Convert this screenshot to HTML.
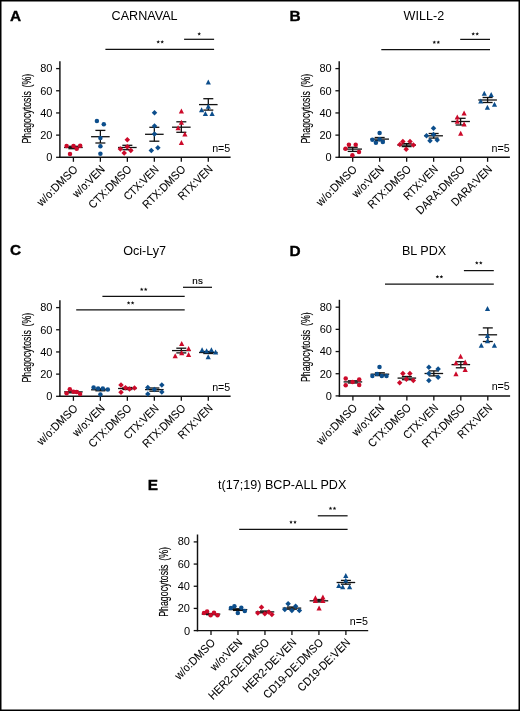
<!DOCTYPE html>
<html><head><meta charset="utf-8"><title>Phagocytosis figure</title>
<style>
html,body{margin:0;padding:0;background:#fff;}
body{width:520px;height:711px;overflow:hidden;font-family:"Liberation Sans",sans-serif;}
svg{display:block;will-change:transform;}
</style></head><body>
<svg width="520" height="711" viewBox="0 0 520 711">
<rect x="0" y="0" width="520" height="711" fill="#fff"/>
<text x="10.10" y="21.00" font-family='"Liberation Sans", sans-serif' font-weight="bold" font-size="15.4" stroke="#000" stroke-width="0.35">A</text>
<text transform="translate(144.60,20.40) scale(1,1.05)" font-family='"Liberation Sans", sans-serif' font-size="12.6" text-anchor="middle">CARNAVAL</text>
<line x1="59.90" y1="61.20" x2="59.90" y2="158.00" stroke="#111" stroke-width="1.45"/>
<line x1="59.20" y1="157.30" x2="230.60" y2="157.30" stroke="#111" stroke-width="1.45"/>
<line x1="56.10" y1="157.30" x2="59.90" y2="157.30" stroke="#111" stroke-width="1.3"/>
<text x="52.40" y="161.20" font-family='"Liberation Sans", sans-serif' font-size="11" text-anchor="end">0</text>
<line x1="56.10" y1="135.12" x2="59.90" y2="135.12" stroke="#111" stroke-width="1.3"/>
<text x="52.40" y="139.02" font-family='"Liberation Sans", sans-serif' font-size="11" text-anchor="end">20</text>
<line x1="56.10" y1="112.95" x2="59.90" y2="112.95" stroke="#111" stroke-width="1.3"/>
<text x="52.40" y="116.85" font-family='"Liberation Sans", sans-serif' font-size="11" text-anchor="end">40</text>
<line x1="56.10" y1="90.77" x2="59.90" y2="90.77" stroke="#111" stroke-width="1.3"/>
<text x="52.40" y="94.67" font-family='"Liberation Sans", sans-serif' font-size="11" text-anchor="end">60</text>
<line x1="56.10" y1="68.60" x2="59.90" y2="68.60" stroke="#111" stroke-width="1.3"/>
<text x="52.40" y="72.10" font-family='"Liberation Sans", sans-serif' font-size="11" text-anchor="end">80</text>
<text transform="translate(30.60,108.60) rotate(-90) scale(0.688,1)" font-family='"Liberation Sans", sans-serif' font-size="12.8" stroke="#000" stroke-width="0.15" word-spacing="2" text-anchor="middle">Phagocytosis (%)</text>
<line x1="73.40" y1="157.30" x2="73.40" y2="161.80" stroke="#111" stroke-width="1.3"/>
<text transform="translate(78.45,169.95) rotate(-45) scale(1,1.09)" font-family='"Liberation Sans", sans-serif' font-size="10.5" stroke="#000" stroke-width="0.06" text-anchor="end" textLength="52.17" lengthAdjust="spacingAndGlyphs">w/o:DMSO</text>
<line x1="100.38" y1="157.30" x2="100.38" y2="161.80" stroke="#111" stroke-width="1.3"/>
<text transform="translate(105.43,169.95) rotate(-45) scale(1,1.09)" font-family='"Liberation Sans", sans-serif' font-size="10.5" stroke="#000" stroke-width="0.06" text-anchor="end" textLength="40.06" lengthAdjust="spacingAndGlyphs">w/o:VEN</text>
<line x1="127.36" y1="157.30" x2="127.36" y2="161.80" stroke="#111" stroke-width="1.3"/>
<text transform="translate(132.41,169.95) rotate(-45) scale(1,1.09)" font-family='"Liberation Sans", sans-serif' font-size="10.5" stroke="#000" stroke-width="0.06" text-anchor="end" textLength="55.72" lengthAdjust="spacingAndGlyphs">CTX:DMSO</text>
<line x1="154.34" y1="157.30" x2="154.34" y2="161.80" stroke="#111" stroke-width="1.3"/>
<text transform="translate(159.39,169.95) rotate(-45) scale(1,1.09)" font-family='"Liberation Sans", sans-serif' font-size="10.5" stroke="#000" stroke-width="0.06" text-anchor="end" textLength="44.02" lengthAdjust="spacingAndGlyphs">CTX:VEN</text>
<line x1="181.32" y1="157.30" x2="181.32" y2="161.80" stroke="#111" stroke-width="1.3"/>
<text transform="translate(186.37,169.95) rotate(-45) scale(1,1.09)" font-family='"Liberation Sans", sans-serif' font-size="10.5" stroke="#000" stroke-width="0.06" text-anchor="end" textLength="55.72" lengthAdjust="spacingAndGlyphs">RTX:DMSO</text>
<line x1="208.30" y1="157.30" x2="208.30" y2="161.80" stroke="#111" stroke-width="1.3"/>
<text transform="translate(213.35,169.95) rotate(-45) scale(1,1.09)" font-family='"Liberation Sans", sans-serif' font-size="10.5" stroke="#000" stroke-width="0.06" text-anchor="end" textLength="43.52" lengthAdjust="spacingAndGlyphs">RTX:VEN</text>
<text x="230.30" y="151.70" font-family='"Liberation Sans", sans-serif' font-size="10.7" text-anchor="end">n=5</text>
<line x1="64.10" y1="147.50" x2="82.70" y2="147.50" stroke="#111" stroke-width="1.3"/>
<line x1="68.40" y1="146.30" x2="78.40" y2="146.30" stroke="#111" stroke-width="1.3"/>
<line x1="68.40" y1="148.70" x2="78.40" y2="148.70" stroke="#111" stroke-width="1.3"/>
<line x1="73.40" y1="146.30" x2="73.40" y2="148.70" stroke="#111" stroke-width="1.3"/>
<circle cx="66.60" cy="146.10" r="2.25" fill="#cc0a2a"/>
<circle cx="73.50" cy="146.10" r="2.25" fill="#cc0a2a"/>
<circle cx="76.70" cy="148.80" r="2.25" fill="#cc0a2a"/>
<circle cx="80.20" cy="145.80" r="2.25" fill="#cc0a2a"/>
<circle cx="70.00" cy="154.00" r="2.25" fill="#cc0a2a"/>
<line x1="91.08" y1="136.70" x2="109.68" y2="136.70" stroke="#111" stroke-width="1.3"/>
<line x1="95.38" y1="130.40" x2="105.38" y2="130.40" stroke="#111" stroke-width="1.3"/>
<line x1="95.38" y1="143.00" x2="105.38" y2="143.00" stroke="#111" stroke-width="1.3"/>
<line x1="100.38" y1="130.40" x2="100.38" y2="143.00" stroke="#111" stroke-width="1.3"/>
<circle cx="96.90" cy="121.00" r="2.25" fill="#0c4e8c"/>
<circle cx="103.80" cy="124.20" r="2.25" fill="#0c4e8c"/>
<circle cx="100.40" cy="138.00" r="2.25" fill="#0c4e8c"/>
<circle cx="100.40" cy="146.30" r="2.25" fill="#0c4e8c"/>
<circle cx="100.40" cy="153.80" r="2.25" fill="#0c4e8c"/>
<line x1="118.06" y1="147.50" x2="136.66" y2="147.50" stroke="#111" stroke-width="1.3"/>
<line x1="122.36" y1="145.30" x2="132.36" y2="145.30" stroke="#111" stroke-width="1.3"/>
<line x1="122.36" y1="149.70" x2="132.36" y2="149.70" stroke="#111" stroke-width="1.3"/>
<line x1="127.36" y1="145.30" x2="127.36" y2="149.70" stroke="#111" stroke-width="1.3"/>
<path d="M127.30 137.05L130.05 139.80L127.30 142.55L124.55 139.80Z" fill="#cc0a2a"/>
<path d="M127.30 143.95L130.05 146.70L127.30 149.45L124.55 146.70Z" fill="#cc0a2a"/>
<path d="M120.40 146.25L123.15 149.00L120.40 151.75L117.65 149.00Z" fill="#cc0a2a"/>
<path d="M130.80 147.75L133.55 150.50L130.80 153.25L128.05 150.50Z" fill="#cc0a2a"/>
<path d="M124.20 150.35L126.95 153.10L124.20 155.85L121.45 153.10Z" fill="#cc0a2a"/>
<line x1="145.04" y1="134.30" x2="163.64" y2="134.30" stroke="#111" stroke-width="1.3"/>
<line x1="149.34" y1="127.30" x2="159.34" y2="127.30" stroke="#111" stroke-width="1.3"/>
<line x1="149.34" y1="141.20" x2="159.34" y2="141.20" stroke="#111" stroke-width="1.3"/>
<line x1="154.34" y1="127.30" x2="154.34" y2="141.20" stroke="#111" stroke-width="1.3"/>
<path d="M154.50 109.95L157.25 112.70L154.50 115.45L151.75 112.70Z" fill="#0c4e8c"/>
<path d="M154.50 123.25L157.25 126.00L154.50 128.75L151.75 126.00Z" fill="#0c4e8c"/>
<path d="M154.50 131.25L157.25 134.00L154.50 136.75L151.75 134.00Z" fill="#0c4e8c"/>
<path d="M157.90 144.95L160.65 147.70L157.90 150.45L155.15 147.70Z" fill="#0c4e8c"/>
<path d="M151.30 147.65L154.05 150.40L151.30 153.15L148.55 150.40Z" fill="#0c4e8c"/>
<line x1="172.02" y1="127.20" x2="190.62" y2="127.20" stroke="#111" stroke-width="1.3"/>
<line x1="176.32" y1="121.80" x2="186.32" y2="121.80" stroke="#111" stroke-width="1.3"/>
<line x1="176.32" y1="132.30" x2="186.32" y2="132.30" stroke="#111" stroke-width="1.3"/>
<line x1="181.32" y1="121.80" x2="181.32" y2="132.30" stroke="#111" stroke-width="1.3"/>
<path d="M181.40 108.45L184.00 113.45L178.80 113.45Z" fill="#cc0a2a"/>
<path d="M181.40 119.75L184.00 124.75L178.80 124.75Z" fill="#cc0a2a"/>
<path d="M178.10 125.15L180.70 130.15L175.50 130.15Z" fill="#cc0a2a"/>
<path d="M184.90 131.55L187.50 136.55L182.30 136.55Z" fill="#cc0a2a"/>
<path d="M181.40 139.95L184.00 144.95L178.80 144.95Z" fill="#cc0a2a"/>
<line x1="199.00" y1="104.60" x2="217.60" y2="104.60" stroke="#111" stroke-width="1.3"/>
<line x1="203.30" y1="98.70" x2="213.30" y2="98.70" stroke="#111" stroke-width="1.3"/>
<line x1="203.30" y1="110.10" x2="213.30" y2="110.10" stroke="#111" stroke-width="1.3"/>
<line x1="208.30" y1="98.70" x2="208.30" y2="110.10" stroke="#111" stroke-width="1.3"/>
<path d="M208.30 79.55L210.90 84.55L205.70 84.55Z" fill="#0c4e8c"/>
<path d="M208.30 103.85L210.90 108.85L205.70 108.85Z" fill="#0c4e8c"/>
<path d="M201.60 107.25L204.20 112.25L199.00 112.25Z" fill="#0c4e8c"/>
<path d="M205.40 110.95L208.00 115.95L202.80 115.95Z" fill="#0c4e8c"/>
<path d="M212.10 110.95L214.70 115.95L209.50 115.95Z" fill="#0c4e8c"/>
<line x1="184.10" y1="39.30" x2="214.10" y2="39.30" stroke="#111" stroke-width="1.25"/>
<polygon points="199.20,32.10 199.70,33.31 201.01,33.41 200.01,34.26 200.32,35.54 199.20,34.85 198.08,35.54 198.39,34.26 197.39,33.41 198.70,33.31" fill="#111"/>
<line x1="105.40" y1="49.40" x2="214.10" y2="49.40" stroke="#111" stroke-width="1.25"/>
<polygon points="158.20,40.10 158.70,41.31 160.01,41.41 159.01,42.26 159.32,43.54 158.20,42.85 157.08,43.54 157.39,42.26 156.39,41.41 157.70,41.31" fill="#111"/>
<polygon points="162.20,40.10 162.70,41.31 164.01,41.41 163.01,42.26 163.32,43.54 162.20,42.85 161.08,43.54 161.39,42.26 160.39,41.41 161.70,41.31" fill="#111"/>
<text x="289.40" y="21.00" font-family='"Liberation Sans", sans-serif' font-weight="bold" font-size="15.4" stroke="#000" stroke-width="0.35">B</text>
<text transform="translate(423.90,20.40) scale(1,1.05)" font-family='"Liberation Sans", sans-serif' font-size="12.6" text-anchor="middle">WILL-2</text>
<line x1="339.20" y1="61.20" x2="339.20" y2="158.00" stroke="#111" stroke-width="1.45"/>
<line x1="338.50" y1="157.30" x2="509.90" y2="157.30" stroke="#111" stroke-width="1.45"/>
<line x1="335.40" y1="157.30" x2="339.20" y2="157.30" stroke="#111" stroke-width="1.3"/>
<text x="331.70" y="161.20" font-family='"Liberation Sans", sans-serif' font-size="11" text-anchor="end">0</text>
<line x1="335.40" y1="135.12" x2="339.20" y2="135.12" stroke="#111" stroke-width="1.3"/>
<text x="331.70" y="139.02" font-family='"Liberation Sans", sans-serif' font-size="11" text-anchor="end">20</text>
<line x1="335.40" y1="112.95" x2="339.20" y2="112.95" stroke="#111" stroke-width="1.3"/>
<text x="331.70" y="116.85" font-family='"Liberation Sans", sans-serif' font-size="11" text-anchor="end">40</text>
<line x1="335.40" y1="90.77" x2="339.20" y2="90.77" stroke="#111" stroke-width="1.3"/>
<text x="331.70" y="94.67" font-family='"Liberation Sans", sans-serif' font-size="11" text-anchor="end">60</text>
<line x1="335.40" y1="68.60" x2="339.20" y2="68.60" stroke="#111" stroke-width="1.3"/>
<text x="331.70" y="72.10" font-family='"Liberation Sans", sans-serif' font-size="11" text-anchor="end">80</text>
<text transform="translate(309.90,108.60) rotate(-90) scale(0.688,1)" font-family='"Liberation Sans", sans-serif' font-size="12.8" stroke="#000" stroke-width="0.15" word-spacing="2" text-anchor="middle">Phagocytosis (%)</text>
<line x1="352.70" y1="157.30" x2="352.70" y2="161.80" stroke="#111" stroke-width="1.3"/>
<text transform="translate(357.75,169.95) rotate(-45) scale(1,1.09)" font-family='"Liberation Sans", sans-serif' font-size="10.5" stroke="#000" stroke-width="0.06" text-anchor="end" textLength="52.17" lengthAdjust="spacingAndGlyphs">w/o:DMSO</text>
<line x1="379.68" y1="157.30" x2="379.68" y2="161.80" stroke="#111" stroke-width="1.3"/>
<text transform="translate(384.73,169.95) rotate(-45) scale(1,1.09)" font-family='"Liberation Sans", sans-serif' font-size="10.5" stroke="#000" stroke-width="0.06" text-anchor="end" textLength="40.06" lengthAdjust="spacingAndGlyphs">w/o:VEN</text>
<line x1="406.66" y1="157.30" x2="406.66" y2="161.80" stroke="#111" stroke-width="1.3"/>
<text transform="translate(411.71,169.95) rotate(-45) scale(1,1.09)" font-family='"Liberation Sans", sans-serif' font-size="10.5" stroke="#000" stroke-width="0.06" text-anchor="end" textLength="55.72" lengthAdjust="spacingAndGlyphs">RTX:DMSO</text>
<line x1="433.64" y1="157.30" x2="433.64" y2="161.80" stroke="#111" stroke-width="1.3"/>
<text transform="translate(438.69,169.95) rotate(-45) scale(1,1.09)" font-family='"Liberation Sans", sans-serif' font-size="10.5" stroke="#000" stroke-width="0.06" text-anchor="end" textLength="43.52" lengthAdjust="spacingAndGlyphs">RTX:VEN</text>
<line x1="460.62" y1="157.30" x2="460.62" y2="161.80" stroke="#111" stroke-width="1.3"/>
<text transform="translate(465.67,169.95) rotate(-45) scale(1,1.09)" font-family='"Liberation Sans", sans-serif' font-size="10.5" stroke="#000" stroke-width="0.06" text-anchor="end" textLength="63.89" lengthAdjust="spacingAndGlyphs">DARA:DMSO</text>
<line x1="487.60" y1="157.30" x2="487.60" y2="161.80" stroke="#111" stroke-width="1.3"/>
<text transform="translate(492.65,169.95) rotate(-45) scale(1,1.09)" font-family='"Liberation Sans", sans-serif' font-size="10.5" stroke="#000" stroke-width="0.06" text-anchor="end" textLength="52.19" lengthAdjust="spacingAndGlyphs">DARA:VEN</text>
<text x="509.60" y="151.70" font-family='"Liberation Sans", sans-serif' font-size="10.7" text-anchor="end">n=5</text>
<line x1="343.40" y1="149.10" x2="362.00" y2="149.10" stroke="#111" stroke-width="1.3"/>
<line x1="347.70" y1="147.30" x2="357.70" y2="147.30" stroke="#111" stroke-width="1.3"/>
<line x1="347.70" y1="151.40" x2="357.70" y2="151.40" stroke="#111" stroke-width="1.3"/>
<line x1="352.70" y1="147.30" x2="352.70" y2="151.40" stroke="#111" stroke-width="1.3"/>
<circle cx="348.90" cy="144.80" r="2.25" fill="#cc0a2a"/>
<circle cx="355.70" cy="144.80" r="2.25" fill="#cc0a2a"/>
<circle cx="345.50" cy="148.70" r="2.25" fill="#cc0a2a"/>
<circle cx="359.00" cy="152.10" r="2.25" fill="#cc0a2a"/>
<circle cx="352.40" cy="155.20" r="2.25" fill="#cc0a2a"/>
<line x1="370.38" y1="139.10" x2="388.98" y2="139.10" stroke="#111" stroke-width="1.3"/>
<line x1="374.68" y1="137.50" x2="384.68" y2="137.50" stroke="#111" stroke-width="1.3"/>
<line x1="374.68" y1="140.70" x2="384.68" y2="140.70" stroke="#111" stroke-width="1.3"/>
<line x1="379.68" y1="137.50" x2="379.68" y2="140.70" stroke="#111" stroke-width="1.3"/>
<circle cx="379.60" cy="132.90" r="2.25" fill="#0c4e8c"/>
<circle cx="372.40" cy="139.80" r="2.25" fill="#0c4e8c"/>
<circle cx="379.60" cy="139.30" r="2.25" fill="#0c4e8c"/>
<circle cx="375.90" cy="142.70" r="2.25" fill="#0c4e8c"/>
<circle cx="382.80" cy="142.10" r="2.25" fill="#0c4e8c"/>
<line x1="397.36" y1="145.10" x2="415.96" y2="145.10" stroke="#111" stroke-width="1.3"/>
<line x1="401.66" y1="143.60" x2="411.66" y2="143.60" stroke="#111" stroke-width="1.3"/>
<line x1="401.66" y1="146.60" x2="411.66" y2="146.60" stroke="#111" stroke-width="1.3"/>
<line x1="406.66" y1="143.60" x2="406.66" y2="146.60" stroke="#111" stroke-width="1.3"/>
<path d="M399.90 141.65L402.65 144.40L399.90 147.15L397.15 144.40Z" fill="#cc0a2a"/>
<path d="M402.90 138.65L405.65 141.40L402.90 144.15L400.15 141.40Z" fill="#cc0a2a"/>
<path d="M410.00 138.65L412.75 141.40L410.00 144.15L407.25 141.40Z" fill="#cc0a2a"/>
<path d="M413.40 142.35L416.15 145.10L413.40 147.85L410.65 145.10Z" fill="#cc0a2a"/>
<path d="M406.20 146.55L408.95 149.30L406.20 152.05L403.45 149.30Z" fill="#cc0a2a"/>
<line x1="424.34" y1="135.80" x2="442.94" y2="135.80" stroke="#111" stroke-width="1.3"/>
<line x1="428.64" y1="133.50" x2="438.64" y2="133.50" stroke="#111" stroke-width="1.3"/>
<line x1="428.64" y1="138.10" x2="438.64" y2="138.10" stroke="#111" stroke-width="1.3"/>
<line x1="433.64" y1="133.50" x2="433.64" y2="138.10" stroke="#111" stroke-width="1.3"/>
<path d="M433.50 125.45L436.25 128.20L433.50 130.95L430.75 128.20Z" fill="#0c4e8c"/>
<path d="M426.50 133.05L429.25 135.80L426.50 138.55L423.75 135.80Z" fill="#0c4e8c"/>
<path d="M433.50 131.85L436.25 134.60L433.50 137.35L430.75 134.60Z" fill="#0c4e8c"/>
<path d="M430.00 138.05L432.75 140.80L430.00 143.55L427.25 140.80Z" fill="#0c4e8c"/>
<path d="M437.20 137.25L439.95 140.00L437.20 142.75L434.45 140.00Z" fill="#0c4e8c"/>
<line x1="451.32" y1="121.50" x2="469.92" y2="121.50" stroke="#111" stroke-width="1.3"/>
<line x1="455.62" y1="118.30" x2="465.62" y2="118.30" stroke="#111" stroke-width="1.3"/>
<line x1="455.62" y1="125.00" x2="465.62" y2="125.00" stroke="#111" stroke-width="1.3"/>
<line x1="460.62" y1="118.30" x2="460.62" y2="125.00" stroke="#111" stroke-width="1.3"/>
<path d="M464.10 110.55L466.70 115.55L461.50 115.55Z" fill="#cc0a2a"/>
<path d="M457.30 114.55L459.90 119.55L454.70 119.55Z" fill="#cc0a2a"/>
<path d="M457.30 118.75L459.90 123.75L454.70 123.75Z" fill="#cc0a2a"/>
<path d="M464.10 121.55L466.70 126.55L461.50 126.55Z" fill="#cc0a2a"/>
<path d="M460.70 130.65L463.30 135.65L458.10 135.65Z" fill="#cc0a2a"/>
<line x1="478.30" y1="100.00" x2="496.90" y2="100.00" stroke="#111" stroke-width="1.3"/>
<line x1="482.60" y1="97.50" x2="492.60" y2="97.50" stroke="#111" stroke-width="1.3"/>
<line x1="482.60" y1="102.50" x2="492.60" y2="102.50" stroke="#111" stroke-width="1.3"/>
<line x1="487.60" y1="97.50" x2="487.60" y2="102.50" stroke="#111" stroke-width="1.3"/>
<path d="M484.30 90.75L486.90 95.75L481.70 95.75Z" fill="#0c4e8c"/>
<path d="M491.20 91.95L493.80 96.95L488.60 96.95Z" fill="#0c4e8c"/>
<path d="M480.80 98.45L483.40 103.45L478.20 103.45Z" fill="#0c4e8c"/>
<path d="M494.50 101.85L497.10 106.85L491.90 106.85Z" fill="#0c4e8c"/>
<path d="M487.40 104.65L490.00 109.65L484.80 109.65Z" fill="#0c4e8c"/>
<line x1="460.20" y1="39.40" x2="490.00" y2="39.40" stroke="#111" stroke-width="1.25"/>
<polygon points="473.20,32.10 473.70,33.31 475.01,33.41 474.01,34.26 474.32,35.54 473.20,34.85 472.08,35.54 472.39,34.26 471.39,33.41 472.70,33.31" fill="#111"/>
<polygon points="477.20,32.10 477.70,33.31 479.01,33.41 478.01,34.26 478.32,35.54 477.20,34.85 476.08,35.54 476.39,34.26 475.39,33.41 476.70,33.31" fill="#111"/>
<line x1="381.30" y1="49.50" x2="490.00" y2="49.50" stroke="#111" stroke-width="1.25"/>
<polygon points="434.30,40.40 434.80,41.61 436.11,41.71 435.11,42.56 435.42,43.84 434.30,43.15 433.18,43.84 433.49,42.56 432.49,41.71 433.80,41.61" fill="#111"/>
<polygon points="438.30,40.40 438.80,41.61 440.11,41.71 439.11,42.56 439.42,43.84 438.30,43.15 437.18,43.84 437.49,42.56 436.49,41.71 437.80,41.61" fill="#111"/>
<text x="10.10" y="255.40" font-family='"Liberation Sans", sans-serif' font-weight="bold" font-size="15.4" stroke="#000" stroke-width="0.35">C</text>
<text transform="translate(144.60,254.80) scale(1,1.05)" font-family='"Liberation Sans", sans-serif' font-size="12.6" text-anchor="middle">Oci-Ly7</text>
<line x1="59.90" y1="300.20" x2="59.90" y2="397.00" stroke="#111" stroke-width="1.45"/>
<line x1="59.20" y1="396.30" x2="230.60" y2="396.30" stroke="#111" stroke-width="1.45"/>
<line x1="56.10" y1="396.30" x2="59.90" y2="396.30" stroke="#111" stroke-width="1.3"/>
<text x="52.40" y="400.20" font-family='"Liberation Sans", sans-serif' font-size="11" text-anchor="end">0</text>
<line x1="56.10" y1="374.12" x2="59.90" y2="374.12" stroke="#111" stroke-width="1.3"/>
<text x="52.40" y="378.02" font-family='"Liberation Sans", sans-serif' font-size="11" text-anchor="end">20</text>
<line x1="56.10" y1="351.95" x2="59.90" y2="351.95" stroke="#111" stroke-width="1.3"/>
<text x="52.40" y="355.85" font-family='"Liberation Sans", sans-serif' font-size="11" text-anchor="end">40</text>
<line x1="56.10" y1="329.77" x2="59.90" y2="329.77" stroke="#111" stroke-width="1.3"/>
<text x="52.40" y="333.67" font-family='"Liberation Sans", sans-serif' font-size="11" text-anchor="end">60</text>
<line x1="56.10" y1="307.60" x2="59.90" y2="307.60" stroke="#111" stroke-width="1.3"/>
<text x="52.40" y="311.10" font-family='"Liberation Sans", sans-serif' font-size="11" text-anchor="end">80</text>
<text transform="translate(30.60,347.60) rotate(-90) scale(0.688,1)" font-family='"Liberation Sans", sans-serif' font-size="12.8" stroke="#000" stroke-width="0.15" word-spacing="2" text-anchor="middle">Phagocytosis (%)</text>
<line x1="73.40" y1="396.30" x2="73.40" y2="400.80" stroke="#111" stroke-width="1.3"/>
<text transform="translate(78.45,408.95) rotate(-45) scale(1,1.09)" font-family='"Liberation Sans", sans-serif' font-size="10.5" stroke="#000" stroke-width="0.06" text-anchor="end" textLength="52.17" lengthAdjust="spacingAndGlyphs">w/o:DMSO</text>
<line x1="100.38" y1="396.30" x2="100.38" y2="400.80" stroke="#111" stroke-width="1.3"/>
<text transform="translate(105.43,408.95) rotate(-45) scale(1,1.09)" font-family='"Liberation Sans", sans-serif' font-size="10.5" stroke="#000" stroke-width="0.06" text-anchor="end" textLength="40.06" lengthAdjust="spacingAndGlyphs">w/o:VEN</text>
<line x1="127.36" y1="396.30" x2="127.36" y2="400.80" stroke="#111" stroke-width="1.3"/>
<text transform="translate(132.41,408.95) rotate(-45) scale(1,1.09)" font-family='"Liberation Sans", sans-serif' font-size="10.5" stroke="#000" stroke-width="0.06" text-anchor="end" textLength="55.72" lengthAdjust="spacingAndGlyphs">CTX:DMSO</text>
<line x1="154.34" y1="396.30" x2="154.34" y2="400.80" stroke="#111" stroke-width="1.3"/>
<text transform="translate(159.39,408.95) rotate(-45) scale(1,1.09)" font-family='"Liberation Sans", sans-serif' font-size="10.5" stroke="#000" stroke-width="0.06" text-anchor="end" textLength="44.02" lengthAdjust="spacingAndGlyphs">CTX:VEN</text>
<line x1="181.32" y1="396.30" x2="181.32" y2="400.80" stroke="#111" stroke-width="1.3"/>
<text transform="translate(186.37,408.95) rotate(-45) scale(1,1.09)" font-family='"Liberation Sans", sans-serif' font-size="10.5" stroke="#000" stroke-width="0.06" text-anchor="end" textLength="55.72" lengthAdjust="spacingAndGlyphs">RTX:DMSO</text>
<line x1="208.30" y1="396.30" x2="208.30" y2="400.80" stroke="#111" stroke-width="1.3"/>
<text transform="translate(213.35,408.95) rotate(-45) scale(1,1.09)" font-family='"Liberation Sans", sans-serif' font-size="10.5" stroke="#000" stroke-width="0.06" text-anchor="end" textLength="43.52" lengthAdjust="spacingAndGlyphs">RTX:VEN</text>
<text x="230.30" y="390.70" font-family='"Liberation Sans", sans-serif' font-size="10.7" text-anchor="end">n=5</text>
<line x1="64.10" y1="391.90" x2="82.70" y2="391.90" stroke="#111" stroke-width="1.3"/>
<line x1="68.40" y1="391.00" x2="78.40" y2="391.00" stroke="#111" stroke-width="1.3"/>
<line x1="68.40" y1="392.80" x2="78.40" y2="392.80" stroke="#111" stroke-width="1.3"/>
<line x1="73.40" y1="391.00" x2="73.40" y2="392.80" stroke="#111" stroke-width="1.3"/>
<circle cx="66.60" cy="393.20" r="2.25" fill="#cc0a2a"/>
<circle cx="69.80" cy="389.30" r="2.25" fill="#cc0a2a"/>
<circle cx="73.50" cy="391.70" r="2.25" fill="#cc0a2a"/>
<circle cx="76.70" cy="391.90" r="2.25" fill="#cc0a2a"/>
<circle cx="80.10" cy="394.00" r="2.25" fill="#cc0a2a"/>
<line x1="91.08" y1="389.80" x2="109.68" y2="389.80" stroke="#111" stroke-width="1.3"/>
<line x1="95.38" y1="388.80" x2="105.38" y2="388.80" stroke="#111" stroke-width="1.3"/>
<line x1="95.38" y1="390.80" x2="105.38" y2="390.80" stroke="#111" stroke-width="1.3"/>
<line x1="100.38" y1="388.80" x2="100.38" y2="390.80" stroke="#111" stroke-width="1.3"/>
<circle cx="93.60" cy="387.50" r="2.25" fill="#0c4e8c"/>
<circle cx="98.10" cy="388.50" r="2.25" fill="#0c4e8c"/>
<circle cx="102.80" cy="388.50" r="2.25" fill="#0c4e8c"/>
<circle cx="107.80" cy="389.60" r="2.25" fill="#0c4e8c"/>
<circle cx="100.40" cy="394.40" r="2.25" fill="#0c4e8c"/>
<line x1="118.06" y1="388.50" x2="136.66" y2="388.50" stroke="#111" stroke-width="1.3"/>
<line x1="122.36" y1="387.50" x2="132.36" y2="387.50" stroke="#111" stroke-width="1.3"/>
<line x1="122.36" y1="389.50" x2="132.36" y2="389.50" stroke="#111" stroke-width="1.3"/>
<line x1="127.36" y1="387.50" x2="127.36" y2="389.50" stroke="#111" stroke-width="1.3"/>
<path d="M121.00 382.35L123.75 385.10L121.00 387.85L118.25 385.10Z" fill="#cc0a2a"/>
<path d="M121.00 389.45L123.75 392.20L121.00 394.95L118.25 392.20Z" fill="#cc0a2a"/>
<path d="M125.50 385.05L128.25 387.80L125.50 390.55L122.75 387.80Z" fill="#cc0a2a"/>
<path d="M129.50 386.25L132.25 389.00L129.50 391.75L126.75 389.00Z" fill="#cc0a2a"/>
<path d="M134.50 385.25L137.25 388.00L134.50 390.75L131.75 388.00Z" fill="#cc0a2a"/>
<line x1="145.04" y1="389.60" x2="163.64" y2="389.60" stroke="#111" stroke-width="1.3"/>
<line x1="149.34" y1="388.00" x2="159.34" y2="388.00" stroke="#111" stroke-width="1.3"/>
<line x1="149.34" y1="391.20" x2="159.34" y2="391.20" stroke="#111" stroke-width="1.3"/>
<line x1="154.34" y1="388.00" x2="154.34" y2="391.20" stroke="#111" stroke-width="1.3"/>
<path d="M147.80 384.65L150.55 387.40L147.80 390.15L145.05 387.40Z" fill="#0c4e8c"/>
<path d="M147.80 391.25L150.55 394.00L147.80 396.75L145.05 394.00Z" fill="#0c4e8c"/>
<path d="M161.80 382.15L164.55 384.90L161.80 387.65L159.05 384.90Z" fill="#0c4e8c"/>
<path d="M161.80 389.15L164.55 391.90L161.80 394.65L159.05 391.90Z" fill="#0c4e8c"/>
<path d="M154.40 386.85L157.15 389.60L154.40 392.35L151.65 389.60Z" fill="#0c4e8c"/>
<line x1="172.02" y1="350.60" x2="190.62" y2="350.60" stroke="#111" stroke-width="1.3"/>
<line x1="176.32" y1="348.20" x2="186.32" y2="348.20" stroke="#111" stroke-width="1.3"/>
<line x1="176.32" y1="352.90" x2="186.32" y2="352.90" stroke="#111" stroke-width="1.3"/>
<line x1="181.32" y1="348.20" x2="181.32" y2="352.90" stroke="#111" stroke-width="1.3"/>
<path d="M181.70 340.95L184.30 345.95L179.10 345.95Z" fill="#cc0a2a"/>
<path d="M188.60 345.95L191.20 350.95L186.00 350.95Z" fill="#cc0a2a"/>
<path d="M181.70 350.15L184.30 355.15L179.10 355.15Z" fill="#cc0a2a"/>
<path d="M175.20 353.15L177.80 358.15L172.60 358.15Z" fill="#cc0a2a"/>
<path d="M188.60 352.05L191.20 357.05L186.00 357.05Z" fill="#cc0a2a"/>
<line x1="199.00" y1="352.50" x2="217.60" y2="352.50" stroke="#111" stroke-width="1.3"/>
<line x1="203.30" y1="351.50" x2="213.30" y2="351.50" stroke="#111" stroke-width="1.3"/>
<line x1="203.30" y1="353.50" x2="213.30" y2="353.50" stroke="#111" stroke-width="1.3"/>
<line x1="208.30" y1="351.50" x2="208.30" y2="353.50" stroke="#111" stroke-width="1.3"/>
<path d="M202.10 347.25L204.70 352.25L199.50 352.25Z" fill="#0c4e8c"/>
<path d="M206.60 348.35L209.20 353.35L204.00 353.35Z" fill="#0c4e8c"/>
<path d="M211.40 347.25L214.00 352.25L208.80 352.25Z" fill="#0c4e8c"/>
<path d="M215.60 349.45L218.20 354.45L213.00 354.45Z" fill="#0c4e8c"/>
<path d="M208.20 354.15L210.80 359.15L205.60 359.15Z" fill="#0c4e8c"/>
<line x1="183.00" y1="287.30" x2="212.00" y2="287.30" stroke="#111" stroke-width="1.25"/>
<text x="197.70" y="283.70" font-family='"Liberation Sans", sans-serif' font-size="9.8" letter-spacing="0.25" stroke="#000" stroke-width="0.15" text-anchor="middle">ns</text>
<line x1="102.40" y1="296.40" x2="184.70" y2="296.40" stroke="#111" stroke-width="1.25"/>
<polygon points="141.70,287.50 142.20,288.71 143.51,288.81 142.51,289.66 142.82,290.94 141.70,290.25 140.58,290.94 140.89,289.66 139.89,288.81 141.20,288.71" fill="#111"/>
<polygon points="145.70,287.50 146.20,288.71 147.51,288.81 146.51,289.66 146.82,290.94 145.70,290.25 144.58,290.94 144.89,289.66 143.89,288.81 145.20,288.71" fill="#111"/>
<line x1="76.20" y1="309.90" x2="184.70" y2="309.90" stroke="#111" stroke-width="1.25"/>
<polygon points="128.60,301.10 129.10,302.31 130.41,302.41 129.41,303.26 129.72,304.54 128.60,303.86 127.48,304.54 127.79,303.26 126.79,302.41 128.10,302.31" fill="#111"/>
<polygon points="132.60,301.10 133.10,302.31 134.41,302.41 133.41,303.26 133.72,304.54 132.60,303.86 131.48,304.54 131.79,303.26 130.79,302.41 132.10,302.31" fill="#111"/>
<text x="289.60" y="255.60" font-family='"Liberation Sans", sans-serif' font-weight="bold" font-size="15.4" stroke="#000" stroke-width="0.35">D</text>
<text transform="translate(424.10,255.00) scale(1,1.05)" font-family='"Liberation Sans", sans-serif' font-size="12.6" text-anchor="middle">BL PDX</text>
<line x1="339.40" y1="299.80" x2="339.40" y2="396.60" stroke="#111" stroke-width="1.45"/>
<line x1="338.70" y1="395.90" x2="510.10" y2="395.90" stroke="#111" stroke-width="1.45"/>
<line x1="335.60" y1="395.90" x2="339.40" y2="395.90" stroke="#111" stroke-width="1.3"/>
<text x="331.90" y="399.80" font-family='"Liberation Sans", sans-serif' font-size="11" text-anchor="end">0</text>
<line x1="335.60" y1="373.72" x2="339.40" y2="373.72" stroke="#111" stroke-width="1.3"/>
<text x="331.90" y="377.62" font-family='"Liberation Sans", sans-serif' font-size="11" text-anchor="end">20</text>
<line x1="335.60" y1="351.55" x2="339.40" y2="351.55" stroke="#111" stroke-width="1.3"/>
<text x="331.90" y="355.45" font-family='"Liberation Sans", sans-serif' font-size="11" text-anchor="end">40</text>
<line x1="335.60" y1="329.37" x2="339.40" y2="329.37" stroke="#111" stroke-width="1.3"/>
<text x="331.90" y="333.27" font-family='"Liberation Sans", sans-serif' font-size="11" text-anchor="end">60</text>
<line x1="335.60" y1="307.20" x2="339.40" y2="307.20" stroke="#111" stroke-width="1.3"/>
<text x="331.90" y="310.70" font-family='"Liberation Sans", sans-serif' font-size="11" text-anchor="end">80</text>
<text transform="translate(310.10,347.20) rotate(-90) scale(0.688,1)" font-family='"Liberation Sans", sans-serif' font-size="12.8" stroke="#000" stroke-width="0.15" word-spacing="2" text-anchor="middle">Phagocytosis (%)</text>
<line x1="352.90" y1="395.90" x2="352.90" y2="400.40" stroke="#111" stroke-width="1.3"/>
<text transform="translate(357.95,408.55) rotate(-45) scale(1,1.09)" font-family='"Liberation Sans", sans-serif' font-size="10.5" stroke="#000" stroke-width="0.06" text-anchor="end" textLength="52.17" lengthAdjust="spacingAndGlyphs">w/o:DMSO</text>
<line x1="379.88" y1="395.90" x2="379.88" y2="400.40" stroke="#111" stroke-width="1.3"/>
<text transform="translate(384.93,408.55) rotate(-45) scale(1,1.09)" font-family='"Liberation Sans", sans-serif' font-size="10.5" stroke="#000" stroke-width="0.06" text-anchor="end" textLength="40.06" lengthAdjust="spacingAndGlyphs">w/o:VEN</text>
<line x1="406.86" y1="395.90" x2="406.86" y2="400.40" stroke="#111" stroke-width="1.3"/>
<text transform="translate(411.91,408.55) rotate(-45) scale(1,1.09)" font-family='"Liberation Sans", sans-serif' font-size="10.5" stroke="#000" stroke-width="0.06" text-anchor="end" textLength="55.72" lengthAdjust="spacingAndGlyphs">CTX:DMSO</text>
<line x1="433.84" y1="395.90" x2="433.84" y2="400.40" stroke="#111" stroke-width="1.3"/>
<text transform="translate(438.89,408.55) rotate(-45) scale(1,1.09)" font-family='"Liberation Sans", sans-serif' font-size="10.5" stroke="#000" stroke-width="0.06" text-anchor="end" textLength="44.02" lengthAdjust="spacingAndGlyphs">CTX:VEN</text>
<line x1="460.82" y1="395.90" x2="460.82" y2="400.40" stroke="#111" stroke-width="1.3"/>
<text transform="translate(465.87,408.55) rotate(-45) scale(1,1.09)" font-family='"Liberation Sans", sans-serif' font-size="10.5" stroke="#000" stroke-width="0.06" text-anchor="end" textLength="55.72" lengthAdjust="spacingAndGlyphs">RTX:DMSO</text>
<line x1="487.80" y1="395.90" x2="487.80" y2="400.40" stroke="#111" stroke-width="1.3"/>
<text transform="translate(492.85,408.55) rotate(-45) scale(1,1.09)" font-family='"Liberation Sans", sans-serif' font-size="10.5" stroke="#000" stroke-width="0.06" text-anchor="end" textLength="43.52" lengthAdjust="spacingAndGlyphs">RTX:VEN</text>
<text x="509.80" y="390.30" font-family='"Liberation Sans", sans-serif' font-size="10.7" text-anchor="end">n=5</text>
<line x1="343.60" y1="381.90" x2="362.20" y2="381.90" stroke="#111" stroke-width="1.3"/>
<line x1="347.90" y1="380.80" x2="357.90" y2="380.80" stroke="#111" stroke-width="1.3"/>
<line x1="347.90" y1="383.00" x2="357.90" y2="383.00" stroke="#111" stroke-width="1.3"/>
<line x1="352.90" y1="380.80" x2="352.90" y2="383.00" stroke="#111" stroke-width="1.3"/>
<circle cx="345.70" cy="378.60" r="2.25" fill="#cc0a2a"/>
<circle cx="345.70" cy="385.30" r="2.25" fill="#cc0a2a"/>
<circle cx="352.60" cy="381.90" r="2.25" fill="#cc0a2a"/>
<circle cx="359.20" cy="379.50" r="2.25" fill="#cc0a2a"/>
<circle cx="359.20" cy="384.90" r="2.25" fill="#cc0a2a"/>
<line x1="370.58" y1="374.20" x2="389.18" y2="374.20" stroke="#111" stroke-width="1.3"/>
<line x1="374.88" y1="372.80" x2="384.88" y2="372.80" stroke="#111" stroke-width="1.3"/>
<line x1="374.88" y1="375.60" x2="384.88" y2="375.60" stroke="#111" stroke-width="1.3"/>
<line x1="379.88" y1="372.80" x2="379.88" y2="375.60" stroke="#111" stroke-width="1.3"/>
<circle cx="379.50" cy="367.10" r="2.25" fill="#0c4e8c"/>
<circle cx="372.40" cy="375.90" r="2.25" fill="#0c4e8c"/>
<circle cx="377.10" cy="374.10" r="2.25" fill="#0c4e8c"/>
<circle cx="381.80" cy="375.90" r="2.25" fill="#0c4e8c"/>
<circle cx="386.50" cy="376.10" r="2.25" fill="#0c4e8c"/>
<line x1="397.56" y1="378.10" x2="416.16" y2="378.10" stroke="#111" stroke-width="1.3"/>
<line x1="401.86" y1="376.50" x2="411.86" y2="376.50" stroke="#111" stroke-width="1.3"/>
<line x1="401.86" y1="379.70" x2="411.86" y2="379.70" stroke="#111" stroke-width="1.3"/>
<line x1="406.86" y1="376.50" x2="406.86" y2="379.70" stroke="#111" stroke-width="1.3"/>
<path d="M402.90 370.75L405.65 373.50L402.90 376.25L400.15 373.50Z" fill="#cc0a2a"/>
<path d="M409.90 370.75L412.65 373.50L409.90 376.25L407.15 373.50Z" fill="#cc0a2a"/>
<path d="M406.40 376.55L409.15 379.30L406.40 382.05L403.65 379.30Z" fill="#cc0a2a"/>
<path d="M399.70 379.95L402.45 382.70L399.70 385.45L396.95 382.70Z" fill="#cc0a2a"/>
<path d="M413.30 377.65L416.05 380.40L413.30 383.15L410.55 380.40Z" fill="#cc0a2a"/>
<line x1="424.54" y1="373.50" x2="443.14" y2="373.50" stroke="#111" stroke-width="1.3"/>
<line x1="428.84" y1="370.90" x2="438.84" y2="370.90" stroke="#111" stroke-width="1.3"/>
<line x1="428.84" y1="375.90" x2="438.84" y2="375.90" stroke="#111" stroke-width="1.3"/>
<line x1="433.84" y1="370.90" x2="433.84" y2="375.90" stroke="#111" stroke-width="1.3"/>
<path d="M428.90 364.45L431.65 367.20L428.90 369.95L426.15 367.20Z" fill="#0c4e8c"/>
<path d="M438.10 366.25L440.85 369.00L438.10 371.75L435.35 369.00Z" fill="#0c4e8c"/>
<path d="M428.90 370.75L431.65 373.50L428.90 376.25L426.15 373.50Z" fill="#0c4e8c"/>
<path d="M438.10 374.45L440.85 377.20L438.10 379.95L435.35 377.20Z" fill="#0c4e8c"/>
<path d="M428.90 377.65L431.65 380.40L428.90 383.15L426.15 380.40Z" fill="#0c4e8c"/>
<line x1="451.52" y1="364.60" x2="470.12" y2="364.60" stroke="#111" stroke-width="1.3"/>
<line x1="455.82" y1="361.70" x2="465.82" y2="361.70" stroke="#111" stroke-width="1.3"/>
<line x1="455.82" y1="367.80" x2="465.82" y2="367.80" stroke="#111" stroke-width="1.3"/>
<line x1="460.82" y1="361.70" x2="460.82" y2="367.80" stroke="#111" stroke-width="1.3"/>
<path d="M460.60 353.75L463.20 358.75L458.00 358.75Z" fill="#cc0a2a"/>
<path d="M456.00 360.15L458.60 365.15L453.40 365.15Z" fill="#cc0a2a"/>
<path d="M465.20 359.55L467.80 364.55L462.60 364.55Z" fill="#cc0a2a"/>
<path d="M465.20 367.05L467.80 372.05L462.60 372.05Z" fill="#cc0a2a"/>
<path d="M456.00 371.35L458.60 376.35L453.40 376.35Z" fill="#cc0a2a"/>
<line x1="478.50" y1="334.80" x2="497.10" y2="334.80" stroke="#111" stroke-width="1.3"/>
<line x1="482.80" y1="327.90" x2="492.80" y2="327.90" stroke="#111" stroke-width="1.3"/>
<line x1="482.80" y1="341.50" x2="492.80" y2="341.50" stroke="#111" stroke-width="1.3"/>
<line x1="487.80" y1="327.90" x2="487.80" y2="341.50" stroke="#111" stroke-width="1.3"/>
<path d="M487.50 305.95L490.10 310.95L484.90 310.95Z" fill="#0c4e8c"/>
<path d="M487.50 333.05L490.10 338.05L484.90 338.05Z" fill="#0c4e8c"/>
<path d="M487.50 338.25L490.10 343.25L484.90 343.25Z" fill="#0c4e8c"/>
<path d="M481.30 342.85L483.90 347.85L478.70 347.85Z" fill="#0c4e8c"/>
<path d="M494.40 342.85L497.00 347.85L491.80 347.85Z" fill="#0c4e8c"/>
<line x1="463.90" y1="270.60" x2="493.80" y2="270.60" stroke="#111" stroke-width="1.25"/>
<polygon points="476.80,261.10 477.30,262.31 478.61,262.41 477.61,263.26 477.92,264.54 476.80,263.86 475.68,264.54 475.99,263.26 474.99,262.41 476.30,262.31" fill="#111"/>
<polygon points="480.80,261.10 481.30,262.31 482.61,262.41 481.61,263.26 481.92,264.54 480.80,263.86 479.68,264.54 479.99,263.26 478.99,262.41 480.30,262.31" fill="#111"/>
<line x1="385.00" y1="284.20" x2="493.80" y2="284.20" stroke="#111" stroke-width="1.25"/>
<polygon points="437.40,274.90 437.90,276.11 439.21,276.21 438.21,277.06 438.52,278.34 437.40,277.66 436.28,278.34 436.59,277.06 435.59,276.21 436.90,276.11" fill="#111"/>
<polygon points="441.40,274.90 441.90,276.11 443.21,276.21 442.21,277.06 442.52,278.34 441.40,277.66 440.28,278.34 440.59,277.06 439.59,276.21 440.90,276.11" fill="#111"/>
<text x="147.70" y="489.90" font-family='"Liberation Sans", sans-serif' font-weight="bold" font-size="15.4" stroke="#000" stroke-width="0.35">E</text>
<text transform="translate(282.20,489.30) scale(1,1.05)" font-family='"Liberation Sans", sans-serif' font-size="12.6" text-anchor="middle">t(17;19) BCP-ALL PDX</text>
<line x1="197.50" y1="534.50" x2="197.50" y2="631.30" stroke="#111" stroke-width="1.45"/>
<line x1="196.80" y1="630.60" x2="368.20" y2="630.60" stroke="#111" stroke-width="1.45"/>
<line x1="193.70" y1="630.60" x2="197.50" y2="630.60" stroke="#111" stroke-width="1.3"/>
<text x="190.00" y="634.50" font-family='"Liberation Sans", sans-serif' font-size="11" text-anchor="end">0</text>
<line x1="193.70" y1="608.42" x2="197.50" y2="608.42" stroke="#111" stroke-width="1.3"/>
<text x="190.00" y="612.32" font-family='"Liberation Sans", sans-serif' font-size="11" text-anchor="end">20</text>
<line x1="193.70" y1="586.25" x2="197.50" y2="586.25" stroke="#111" stroke-width="1.3"/>
<text x="190.00" y="590.15" font-family='"Liberation Sans", sans-serif' font-size="11" text-anchor="end">40</text>
<line x1="193.70" y1="564.07" x2="197.50" y2="564.07" stroke="#111" stroke-width="1.3"/>
<text x="190.00" y="567.97" font-family='"Liberation Sans", sans-serif' font-size="11" text-anchor="end">60</text>
<line x1="193.70" y1="541.90" x2="197.50" y2="541.90" stroke="#111" stroke-width="1.3"/>
<text x="190.00" y="545.40" font-family='"Liberation Sans", sans-serif' font-size="11" text-anchor="end">80</text>
<text transform="translate(168.20,581.90) rotate(-90) scale(0.688,1)" font-family='"Liberation Sans", sans-serif' font-size="12.8" stroke="#000" stroke-width="0.15" word-spacing="2" text-anchor="middle">Phagocytosis (%)</text>
<line x1="211.00" y1="630.60" x2="211.00" y2="635.10" stroke="#111" stroke-width="1.3"/>
<text transform="translate(216.05,643.25) rotate(-45) scale(1,1.09)" font-family='"Liberation Sans", sans-serif' font-size="10.5" stroke="#000" stroke-width="0.06" text-anchor="end" textLength="52.17" lengthAdjust="spacingAndGlyphs">w/o:DMSO</text>
<line x1="237.98" y1="630.60" x2="237.98" y2="635.10" stroke="#111" stroke-width="1.3"/>
<text transform="translate(243.03,643.25) rotate(-45) scale(1,1.09)" font-family='"Liberation Sans", sans-serif' font-size="10.5" stroke="#000" stroke-width="0.06" text-anchor="end" textLength="40.06" lengthAdjust="spacingAndGlyphs">w/o:VEN</text>
<line x1="264.96" y1="630.60" x2="264.96" y2="635.10" stroke="#111" stroke-width="1.3"/>
<text transform="translate(270.01,643.25) rotate(-45) scale(1,1.09)" font-family='"Liberation Sans", sans-serif' font-size="10.5" stroke="#000" stroke-width="0.06" text-anchor="end" textLength="80.52" lengthAdjust="spacingAndGlyphs">HER2-DE:DMSO</text>
<line x1="291.94" y1="630.60" x2="291.94" y2="635.10" stroke="#111" stroke-width="1.3"/>
<text transform="translate(296.99,643.25) rotate(-45) scale(1,1.09)" font-family='"Liberation Sans", sans-serif' font-size="10.5" stroke="#000" stroke-width="0.06" text-anchor="end" textLength="70.31" lengthAdjust="spacingAndGlyphs">HER2-DE:VEN</text>
<line x1="318.92" y1="630.60" x2="318.92" y2="635.10" stroke="#111" stroke-width="1.3"/>
<text transform="translate(323.97,643.25) rotate(-45) scale(1,1.09)" font-family='"Liberation Sans", sans-serif' font-size="10.5" stroke="#000" stroke-width="0.06" text-anchor="end" textLength="79.36" lengthAdjust="spacingAndGlyphs">CD19-DE:DMSO</text>
<line x1="345.90" y1="630.60" x2="345.90" y2="635.10" stroke="#111" stroke-width="1.3"/>
<text transform="translate(350.95,643.25) rotate(-45) scale(1,1.09)" font-family='"Liberation Sans", sans-serif' font-size="10.5" stroke="#000" stroke-width="0.06" text-anchor="end" textLength="69.14" lengthAdjust="spacingAndGlyphs">CD19-DE:VEN</text>
<text x="367.90" y="625.00" font-family='"Liberation Sans", sans-serif' font-size="10.7" text-anchor="end">n=5</text>
<line x1="201.70" y1="614.10" x2="220.30" y2="614.10" stroke="#111" stroke-width="1.3"/>
<line x1="206.00" y1="613.50" x2="216.00" y2="613.50" stroke="#111" stroke-width="1.3"/>
<line x1="206.00" y1="614.70" x2="216.00" y2="614.70" stroke="#111" stroke-width="1.3"/>
<line x1="211.00" y1="613.50" x2="211.00" y2="614.70" stroke="#111" stroke-width="1.3"/>
<circle cx="204.00" cy="613.10" r="2.25" fill="#cc0a2a"/>
<circle cx="207.10" cy="611.50" r="2.25" fill="#cc0a2a"/>
<circle cx="210.60" cy="615.30" r="2.25" fill="#cc0a2a"/>
<circle cx="214.00" cy="612.80" r="2.25" fill="#cc0a2a"/>
<circle cx="217.50" cy="615.30" r="2.25" fill="#cc0a2a"/>
<line x1="228.68" y1="609.60" x2="247.28" y2="609.60" stroke="#111" stroke-width="1.3"/>
<line x1="232.98" y1="608.80" x2="242.98" y2="608.80" stroke="#111" stroke-width="1.3"/>
<line x1="232.98" y1="610.40" x2="242.98" y2="610.40" stroke="#111" stroke-width="1.3"/>
<line x1="237.98" y1="608.80" x2="237.98" y2="610.40" stroke="#111" stroke-width="1.3"/>
<circle cx="230.90" cy="608.10" r="2.25" fill="#0c4e8c"/>
<circle cx="234.40" cy="606.30" r="2.25" fill="#0c4e8c"/>
<circle cx="241.30" cy="607.80" r="2.25" fill="#0c4e8c"/>
<circle cx="244.80" cy="610.90" r="2.25" fill="#0c4e8c"/>
<circle cx="237.80" cy="612.90" r="2.25" fill="#0c4e8c"/>
<line x1="255.66" y1="611.90" x2="274.26" y2="611.90" stroke="#111" stroke-width="1.3"/>
<line x1="259.96" y1="611.00" x2="269.96" y2="611.00" stroke="#111" stroke-width="1.3"/>
<line x1="259.96" y1="612.80" x2="269.96" y2="612.80" stroke="#111" stroke-width="1.3"/>
<line x1="264.96" y1="611.00" x2="264.96" y2="612.80" stroke="#111" stroke-width="1.3"/>
<path d="M261.50 604.55L264.25 607.30L261.50 610.05L258.75 607.30Z" fill="#cc0a2a"/>
<path d="M257.80 610.35L260.55 613.10L257.80 615.85L255.05 613.10Z" fill="#cc0a2a"/>
<path d="M264.80 611.05L267.55 613.80L264.80 616.55L262.05 613.80Z" fill="#cc0a2a"/>
<path d="M268.80 609.15L271.55 611.90L268.80 614.65L266.05 611.90Z" fill="#cc0a2a"/>
<path d="M271.90 611.65L274.65 614.40L271.90 617.15L269.15 614.40Z" fill="#cc0a2a"/>
<line x1="282.64" y1="608.10" x2="301.24" y2="608.10" stroke="#111" stroke-width="1.3"/>
<line x1="286.94" y1="607.00" x2="296.94" y2="607.00" stroke="#111" stroke-width="1.3"/>
<line x1="286.94" y1="609.20" x2="296.94" y2="609.20" stroke="#111" stroke-width="1.3"/>
<line x1="291.94" y1="607.00" x2="291.94" y2="609.20" stroke="#111" stroke-width="1.3"/>
<path d="M288.10 601.05L290.85 603.80L288.10 606.55L285.35 603.80Z" fill="#0c4e8c"/>
<path d="M284.80 606.65L287.55 609.40L284.80 612.15L282.05 609.40Z" fill="#0c4e8c"/>
<path d="M291.90 607.85L294.65 610.60L291.90 613.35L289.15 610.60Z" fill="#0c4e8c"/>
<path d="M295.60 603.55L298.35 606.30L295.60 609.05L292.85 606.30Z" fill="#0c4e8c"/>
<path d="M299.40 607.85L302.15 610.60L299.40 613.35L296.65 610.60Z" fill="#0c4e8c"/>
<line x1="309.62" y1="600.80" x2="328.22" y2="600.80" stroke="#111" stroke-width="1.3"/>
<line x1="313.92" y1="599.50" x2="323.92" y2="599.50" stroke="#111" stroke-width="1.3"/>
<line x1="313.92" y1="602.00" x2="323.92" y2="602.00" stroke="#111" stroke-width="1.3"/>
<line x1="318.92" y1="599.50" x2="318.92" y2="602.00" stroke="#111" stroke-width="1.3"/>
<path d="M315.40 595.15L318.00 600.15L312.80 600.15Z" fill="#cc0a2a"/>
<path d="M322.90 594.55L325.50 599.55L320.30 599.55Z" fill="#cc0a2a"/>
<path d="M315.40 598.05L318.00 603.05L312.80 603.05Z" fill="#cc0a2a"/>
<path d="M322.90 598.05L325.50 603.05L320.30 603.05Z" fill="#cc0a2a"/>
<path d="M319.10 605.55L321.70 610.55L316.50 610.55Z" fill="#cc0a2a"/>
<line x1="336.60" y1="582.50" x2="355.20" y2="582.50" stroke="#111" stroke-width="1.3"/>
<line x1="340.90" y1="580.40" x2="350.90" y2="580.40" stroke="#111" stroke-width="1.3"/>
<line x1="340.90" y1="584.20" x2="350.90" y2="584.20" stroke="#111" stroke-width="1.3"/>
<line x1="345.90" y1="580.40" x2="345.90" y2="584.20" stroke="#111" stroke-width="1.3"/>
<path d="M345.80 573.05L348.40 578.05L343.20 578.05Z" fill="#0c4e8c"/>
<path d="M345.80 577.65L348.40 582.65L343.20 582.65Z" fill="#0c4e8c"/>
<path d="M338.80 583.05L341.40 588.05L336.20 588.05Z" fill="#0c4e8c"/>
<path d="M342.70 584.15L345.30 589.15L340.10 589.15Z" fill="#0c4e8c"/>
<path d="M349.60 584.15L352.20 589.15L347.00 589.15Z" fill="#0c4e8c"/>
<line x1="317.80" y1="515.80" x2="347.60" y2="515.80" stroke="#111" stroke-width="1.25"/>
<polygon points="330.50,506.50 331.00,507.71 332.31,507.81 331.31,508.66 331.62,509.94 330.50,509.25 329.38,509.94 329.69,508.66 328.69,507.81 330.00,507.71" fill="#111"/>
<polygon points="334.50,506.50 335.00,507.71 336.31,507.81 335.31,508.66 335.62,509.94 334.50,509.25 333.38,509.94 333.69,508.66 332.69,507.81 334.00,507.71" fill="#111"/>
<line x1="239.20" y1="529.40" x2="347.60" y2="529.40" stroke="#111" stroke-width="1.25"/>
<polygon points="291.00,520.20 291.50,521.41 292.81,521.51 291.81,522.36 292.12,523.64 291.00,522.96 289.88,523.64 290.19,522.36 289.19,521.51 290.50,521.41" fill="#111"/>
<polygon points="295.00,520.20 295.50,521.41 296.81,521.51 295.81,522.36 296.12,523.64 295.00,522.96 293.88,523.64 294.19,522.36 293.19,521.51 294.50,521.41" fill="#111"/>
<rect x="0.75" y="0.75" width="518.5" height="709.5" fill="none" stroke="#000" stroke-width="1.5"/>
</svg>
</body></html>
